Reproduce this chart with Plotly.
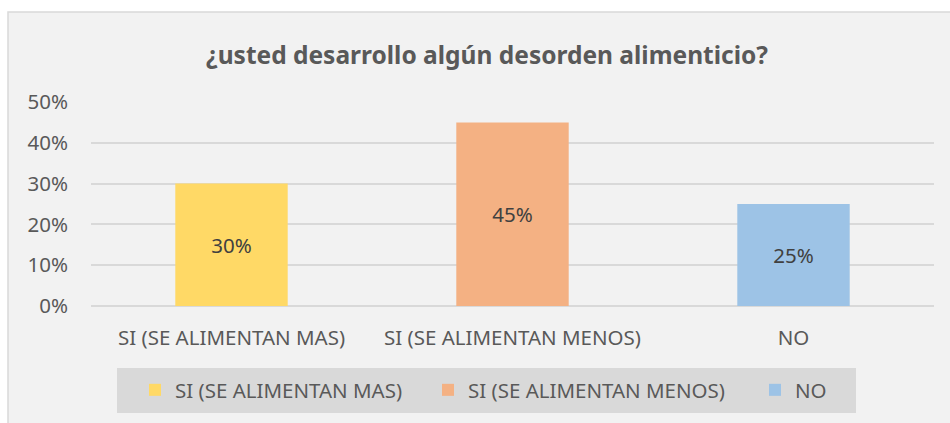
import plotly.graph_objects as go

categories = ["SI (SE ALIMENTAN MAS)", "SI (SE ALIMENTAN MENOS)", "NO"]
values = [0.30, 0.45, 0.25]
colors = ["#FFD966", "#F4B183", "#9DC3E6"]
title_text = "¿usted desarrollo algún desorden alimenticio?"

FONT = "Noto Sans"
FS = 20.5
W, H = 950, 423
L, R, T, B = 91, 16, 102, 117
pw = W - L - R
ph = H - T - B

def px_x(p):
    return (p - L) / pw

def px_y(p):
    return (H - B - p) / ph

legend_names = ["legend", "legend2", "legend3"]
legend_left_px = [135, 428, 755]

fig = go.Figure()
for cat, val, col, lg in zip(categories, values, colors, legend_names):
    fig.add_trace(go.Bar(
        x=[cat], y=[val], name=cat, marker=dict(color=col, line=dict(width=0)),
        width=0.4, text=[f"{val:.0%}"], textposition="inside",
        insidetextanchor="middle", textangle=0,
        textfont=dict(family=FONT, size=FS, color="#404040"),
        hoverinfo="skip", legend=lg,
    ))

legend_style = dict(orientation="h", xanchor="left", y=px_y(390), yanchor="middle",
                    bgcolor="rgba(0,0,0,0)", borderwidth=0,
                    font=dict(family=FONT, size=FS, color="#595959"),
                    itemclick=False, itemdoubleclick=False)

fig.update_layout(
    width=W, height=H,
    margin=dict(l=L, r=R, t=T, b=B, pad=0),
    paper_bgcolor="white",
    plot_bgcolor="rgba(0,0,0,0)",
    barmode="overlay",
    uniformtext=dict(minsize=FS, mode="show"),
    title=dict(text=f"<b>{title_text}</b>", x=487 / W, xref="container", xanchor="center",
               y=1 - 55 / H, yref="container", yanchor="middle",
               font=dict(family=FONT, size=24.5, color="#595959")),
    showlegend=True,
    legend=dict(x=px_x(legend_left_px[0]), **legend_style),
    legend2=dict(x=px_x(legend_left_px[1]), **legend_style),
    legend3=dict(x=px_x(legend_left_px[2]), **legend_style),
    shapes=[
        dict(type="rect", xref="paper", yref="paper", layer="below",
             x0=px_x(8), x1=px_x(951), y0=px_y(424), y1=px_y(12),
             fillcolor="#F2F2F2", line=dict(color="#D9D9D9", width=1.5)),
        dict(type="rect", xref="paper", yref="paper", layer="below",
             x0=px_x(117), x1=px_x(856), y0=px_y(413), y1=px_y(368),
             fillcolor="#D9D9D9", line=dict(width=0)),
    ],
)
fig.update_xaxes(showgrid=False, showline=False, zeroline=False, ticks="",
                 ticklabelstandoff=17,
                 tickfont=dict(family=FONT, size=FS, color="#595959"))
fig.update_yaxes(range=[0, 0.5], dtick=0.1, tickformat=".0%", showgrid=True,
                 gridcolor="#D9D9D9", gridwidth=1.5, zeroline=True,
                 zerolinecolor="#D9D9D9", zerolinewidth=1.5, showline=False,
                 ticks="", ticklabelstandoff=22,
                 tickfont=dict(family=FONT, size=FS, color="#595959"))

fig.write_html("out.html", config={"displayModeBar": False},
               post_script="document.body.style.margin='0';document.body.style.padding='0';")
